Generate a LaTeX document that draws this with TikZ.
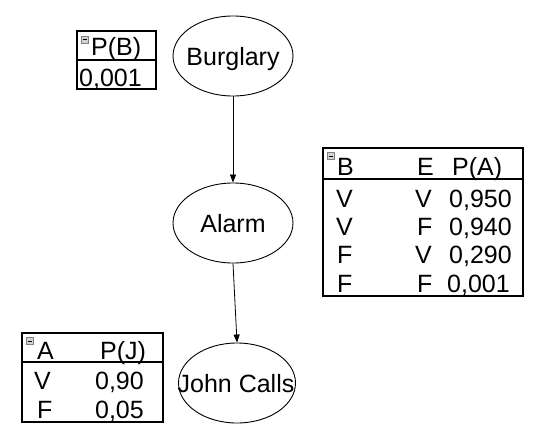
\documentclass[tikz,border=0pt]{standalone}
\usepackage{fontspec}
\setmainfont{Liberation Sans}
\usetikzlibrary{shapes.geometric,arrows.meta,calc}
\tikzset{
  bigfont/.style={font=\fontsize{25}{28}\selectfont},
  var/.style={ellipse, draw=black, line width=0.9pt, inner sep=0pt, minimum width=120pt, minimum height=80pt},
  vlabel/.style={anchor=base, inner sep=0pt, bigfont},
  cpt/.style={draw=black, line width=1.2pt},
  txt/.style={anchor=base west, inner sep=0pt, bigfont},
  txr/.style={anchor=base east, inner sep=0pt, bigfont},
  edge/.style={line width=0.8pt, -{Triangle[length=8pt,width=6pt]}},
  minusbox/.style={draw=gray, fill=gray!35, line width=0.6pt, minimum size=7pt, inner sep=0pt,
    path picture={\draw[black, line width=0.7pt] ($(path picture bounding box.west)+(1.5,0)$) -- ($(path picture bounding box.east)+(-1.5,0)$);}}
}
\begin{document}
\begin{tikzpicture}[x=1pt,y=-1pt]
\useasboundingbox (0,0) rectangle (537,444);
% nodes
\node[var] (burglary) at (233,56) {};
\node[vlabel] (burglaryT) at (233,65) {Burglary};
\node[var] (alarm) at (233,223) {};
\node[vlabel] (alarmT) at (233,232) {Alarm};
\node[var, minimum width=117pt] (john) at (237,383) {};
\node[vlabel] (johnT) at (236,392) {John Calls};
\draw[edge] (burglary) -- (alarm);
\draw[edge] (alarm.south) -- (john.north);
% P(B) table
\draw[cpt] (77,31) rectangle (156,89);
\draw[cpt] (77,60) -- (156,60);
\node[minusbox] (mb) at (84.5,39.5) {};
\node[txt] (pbh) at (91,56) {P(B)};
\node[txt] (pbv) at (79,86) {0,001};
% Alarm table
\draw[cpt] (323,148) rectangle (523,296);
\draw[cpt] (323,179) -- (523,179);
\node[minusbox] (ma) at (331,156) {};
\node[txt] (ah1) at (337,175) {B};
\node[txt] (ah2) at (417,175) {E};
\node[txt] (ah3) at (452,175) {P(A)};
\node[txt] (a11) at (336,207) {V};
\node[txt] (a12) at (415,207) {V};
\node[txr] (a13) at (512,207) {0,950};
\node[txt] (a21) at (336,235) {V};
\node[txt] (a22) at (417,235) {F};
\node[txr] (a23) at (512,235) {0,940};
\node[txt] (a31) at (337,263) {F};
\node[txt] (a32) at (415,263) {V};
\node[txr] (a33) at (512,263) {0,290};
\node[txt] (a41) at (337,292) {F};
\node[txt] (a42) at (417,292) {F};
\node[txr] (a43) at (510,292) {0,001};
% John table
\draw[cpt] (22,333) rectangle (163,422);
\draw[cpt] (22,362) -- (163,362);
\node[minusbox] (mj) at (30,341) {};
\node[txt] (jh1) at (37,359) {A};
\node[txt] (jh2) at (100,359) {P(J)};
\node[txt] (j11) at (34,389) {V};
\node[txr] (j12) at (144,389) {0,90};
\node[txt] (j21) at (37,418) {F};
\node[txr] (j22) at (144,418) {0,05};
\end{tikzpicture}
\end{document}
